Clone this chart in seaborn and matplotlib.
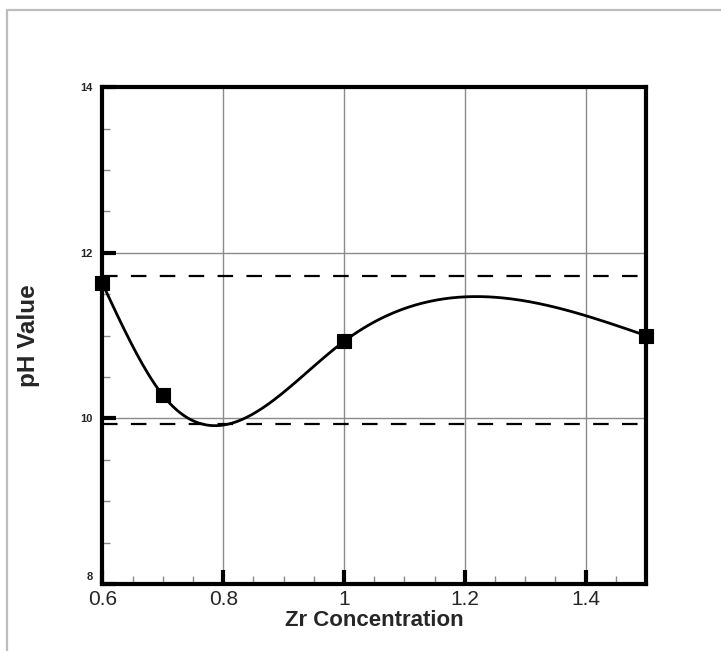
import numpy as np
import pandas as pd
import matplotlib
matplotlib.use("Agg")
import matplotlib.pyplot as plt
import seaborn as sns
import matplotlib.transforms as mtransforms
from matplotlib.ticker import MultipleLocator, FixedLocator
from matplotlib.lines import Line2D

# ---- data ----
zr_conc = [0.6, 0.7, 1.0, 1.5]
ph_value = [11.63, 10.28, 10.93, 11.00]
upper_limit = 11.72
lower_limit = 9.93
x_ticks = [0.6, 0.8, 1.0, 1.2, 1.4]
x_tick_labels = ["0.6", "0.8", "1", "1.2", "1.4"]
y_ticks = [8, 10, 12, 14]
y_tick_labels = ["8", "10", "12", "14"]


def natural_spline(x, y, xs):
    x = np.asarray(x, float); y = np.asarray(y, float)
    n = len(x)
    h = np.diff(x)
    A = np.zeros((n, n)); b = np.zeros(n)
    A[0, 0] = 1; A[-1, -1] = 1
    for i in range(1, n - 1):
        A[i, i - 1] = h[i - 1]
        A[i, i] = 2 * (h[i - 1] + h[i])
        A[i, i + 1] = h[i]
        b[i] = 3 * ((y[i + 1] - y[i]) / h[i] - (y[i] - y[i - 1]) / h[i - 1])
    c = np.linalg.solve(A, b)
    out = np.empty_like(xs)
    for k, xv in enumerate(xs):
        i = min(max(np.searchsorted(x, xv) - 1, 0), n - 2)
        bi = (y[i + 1] - y[i]) / h[i] - h[i] * (2 * c[i] + c[i + 1]) / 3
        di = (c[i + 1] - c[i]) / (3 * h[i])
        dx = xv - x[i]
        out[k] = y[i] + bi * dx + c[i] * dx ** 2 + di * dx ** 3
    return out


sns.set_theme(style="white")
plt.rcParams["font.family"] = ["Liberation Sans", "DejaVu Sans"]

fig = plt.figure(figsize=(7.21, 6.51), dpi=100)
ax = fig.add_axes([0.142, 0.103, 0.754, 0.763])

xs = np.linspace(zr_conc[0], zr_conc[-1], 300)
curve = pd.DataFrame({"x": xs, "y": natural_spline(zr_conc, ph_value, xs)})
pts = pd.DataFrame({"x": zr_conc, "y": ph_value})

ax.grid(True, which="major", color="#8a8a8a", linewidth=1.0)
ax.set_axisbelow(True)

ax.axhline(upper_limit, color="black", linewidth=1.6, dashes=(7, 6), zorder=2)
ax.axhline(lower_limit, color="black", linewidth=1.6, dashes=(7, 6), zorder=2)

sns.lineplot(data=curve, x="x", y="y", ax=ax, color="black", linewidth=2.0,
             zorder=3, sort=False)
sns.scatterplot(data=pts, x="x", y="y", ax=ax, marker="s", s=100,
                color="black", edgecolor="black", zorder=4, clip_on=False)

ax.set_xlim(0.6, 1.5)
ax.set_ylim(8, 14)
ax.xaxis.set_major_locator(FixedLocator(x_ticks))
ax.set_xticklabels(x_tick_labels)
ax.yaxis.set_major_locator(FixedLocator(y_ticks))
ax.set_yticklabels(y_tick_labels)
ax.xaxis.set_minor_locator(MultipleLocator(0.05))
ax.yaxis.set_minor_locator(MultipleLocator(0.5))

ax.tick_params(axis="x", which="major", direction="in", length=10, width=3,
               color="black", labelsize=15, pad=4, bottom=True, top=False)
ax.tick_params(axis="y", which="major", direction="in", length=10, width=3,
               color="black", labelsize=8, pad=7, left=True, right=False)
for lab in ax.get_yticklabels():
    lab.set_fontweight("bold")
ax.tick_params(which="minor", direction="in", length=6, width=1,
               color="#8a8a8a", bottom=True, left=True, top=False, right=False)

# the bottom-left "8" label sits a little above the corner, clear of "0.6"
first = ax.yaxis.get_major_ticks()[0]
first.label1.set_transform(first.label1.get_transform() +
                           mtransforms.ScaledTranslation(0, 6 / 72, fig.dpi_scale_trans))

for sp in ax.spines.values():
    sp.set_visible(True)
    sp.set_color("black")
    sp.set_linewidth(3)

ax.set_xlabel("Zr Concentration", fontsize=16, fontweight="bold", labelpad=1)
ax.set_ylabel("pH Value", fontsize=17.5, fontweight="bold", labelpad=29)

# figure frame (gray border at top and left)
fig.add_artist(Line2D([7 / 721, 7 / 721], [0, 1 - 10 / 651], transform=fig.transFigure,
                      color="#bdbdbd", linewidth=1.6))
fig.add_artist(Line2D([7 / 721, 1], [1 - 10 / 651, 1 - 10 / 651], transform=fig.transFigure,
                      color="#bdbdbd", linewidth=1.6))

fig.savefig("out.png", dpi=100)
